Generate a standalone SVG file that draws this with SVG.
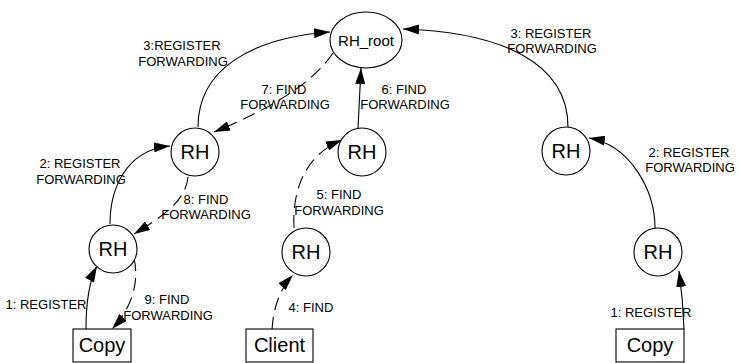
<svg xmlns="http://www.w3.org/2000/svg" width="738" height="363" viewBox="0 0 738 363">
<defs>
<marker id="arr" viewBox="0 0 16 10" refX="16" refY="5" markerWidth="16" markerHeight="10" markerUnits="userSpaceOnUse" orient="auto">
<path d="M0,0 L16,5 L0,10 Z" fill="#000"/>
</marker>
<style>
.node{fill:#fff;stroke:#000;stroke-width:1.1}
.nt{font-family:"Liberation Sans",Arial,sans-serif;font-size:20px;text-anchor:middle;fill:#000}
.lb{font-family:"Liberation Sans",Arial,sans-serif;font-size:13px;text-anchor:middle;fill:#000}
.c{fill:none;stroke:#000;stroke-width:1.1;marker-end:url(#arr)}
.d{stroke-dasharray:13 7}
</style>
</defs>
<rect width="738" height="363" fill="#fff"/>
<g id="connectors">
<path class="c" d="M86,329 Q86,287 97,266"/>
<path class="c" d="M110,224 C110,190 125,150 170,146"/>
<path class="c" d="M198,127 C198,70 250,38 330,32"/>
<path class="c" d="M684,329 Q683,300 679,271"/>
<path class="c" d="M655,228 C655,190 630,145 589,138"/>
<path class="c" d="M568,127 C568,62 500,32 403,29"/>
<path class="c d" d="M272,330 Q274,295 293,275"/>
<path class="c d" d="M294,228 C292,190 305,155 342,140"/>
<path class="c" d="M358,128 L361,68"/>
<path class="c d" d="M333,53 Q305,95 214,132"/>
<path class="c d" d="M188,177 C186,200 165,215 134,234"/>
<path class="c d" d="M134,258 C140,285 130,310 112,329"/>
</g>
<g id="labels">
<text class="lb" x="182" y="49.5">3:REGISTER</text>
<text class="lb" x="183" y="65.5">FORWARDING</text>
<text class="lb" x="284" y="93.5">7: FIND</text>
<text class="lb" x="285" y="109">FORWARDING</text>
<text class="lb" x="404" y="93.5">6: FIND</text>
<text class="lb" x="405" y="109">FORWARDING</text>
<text class="lb" x="551" y="37.5">3: REGISTER</text>
<text class="lb" x="552" y="53">FORWARDING</text>
<text class="lb" x="689" y="156.5">2: REGISTER</text>
<text class="lb" x="690" y="172">FORWARDING</text>
<text class="lb" x="80" y="167.5">2: REGISTER</text>
<text class="lb" x="81" y="184">FORWARDING</text>
<text class="lb" x="206" y="203.5">8: FIND</text>
<text class="lb" x="206" y="219">FORWARDING</text>
<text class="lb" x="339" y="198.5">5: FIND</text>
<text class="lb" x="339" y="215">FORWARDING</text>
<text class="lb" x="46" y="308.5">1: REGISTER</text>
<text class="lb" x="167" y="303.5">9: FIND</text>
<text class="lb" x="168" y="319.5">FORWARDING</text>
<text class="lb" x="311" y="311.5">4: FIND</text>
<text class="lb" x="651" y="316.5">1: REGISTER</text>
</g>
<g id="rh_root">
<ellipse class="node" cx="366" cy="40" rx="36" ry="28"/>
<text class="nt" x="366" y="46" style="font-size:15px">RH_root</text>
</g>
<g id="rh_mid_left">
<circle class="node" cx="195" cy="152" r="24"/>
<text class="nt" x="195" y="159">RH</text>
</g>
<g id="rh_low_left">
<circle class="node" cx="113" cy="249" r="24"/>
<text class="nt" x="113" y="256">RH</text>
</g>
<g id="rh_center">
<circle class="node" cx="362" cy="152" r="24"/>
<text class="nt" x="362" y="159">RH</text>
</g>
<g id="rh_client">
<circle class="node" cx="306" cy="252" r="24"/>
<text class="nt" x="306" y="259">RH</text>
</g>
<g id="rh_mid_right">
<circle class="node" cx="566" cy="151" r="24"/>
<text class="nt" x="566" y="158">RH</text>
</g>
<g id="rh_low_right">
<circle class="node" cx="658" cy="252" r="24"/>
<text class="nt" x="658" y="259">RH</text>
</g>
<g id="copy_left">
<rect class="node" x="73" y="329" width="58" height="33"/>
<text class="nt" x="102" y="352">Copy</text>
</g>
<g id="client">
<rect class="node" x="246" y="329" width="67" height="33"/>
<text class="nt" x="279.5" y="352">Client</text>
</g>
<g id="copy_right">
<rect class="node" x="616" y="329" width="68" height="33"/>
<text class="nt" x="650" y="352">Copy</text>
</g>
</svg>
